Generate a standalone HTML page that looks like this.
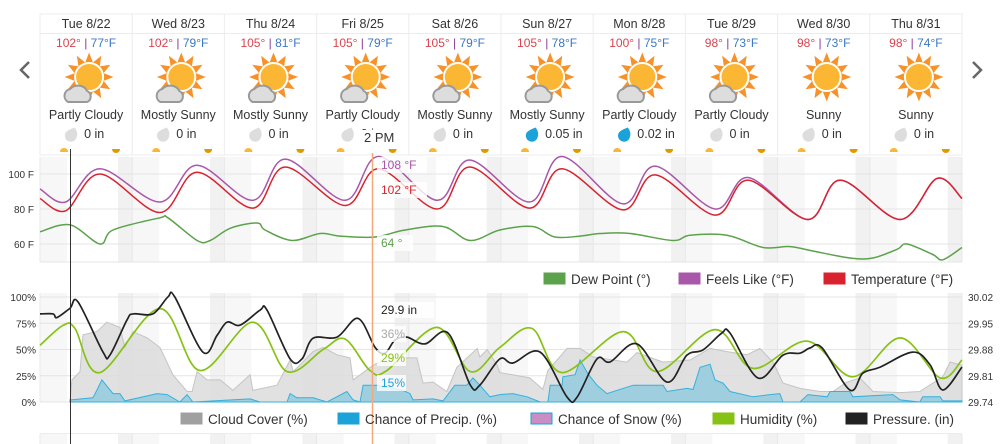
<!DOCTYPE html>
<html><head><meta charset="utf-8"><style>
body{margin:0;width:1000px;height:444px;overflow:hidden;background:#fff;font-family:"Liberation Sans",Arial,sans-serif;}
svg{position:absolute;left:0;top:0}
text{font-family:"Liberation Sans",Arial,sans-serif}
</style></head><body>
<svg id="c" width="1000" height="444" viewBox="0 0 1000 444"></svg>
<script>
const days=["Tue 8/22","Wed 8/23","Thu 8/24","Fri 8/25","Sat 8/26","Sun 8/27","Mon 8/28","Tue 8/29","Wed 8/30","Thu 8/31"];
const highs=[102,102,105,105,105,105,100,98,98,98];
const lows=[77,79,81,79,79,78,75,73,73,74];
const conds=["Partly Cloudy","Mostly Sunny","Mostly Sunny","Partly Cloudy","Mostly Sunny","Mostly Sunny","Partly Cloudy","Partly Cloudy","Sunny","Sunny"];
const precipAmt=["0 in","0 in","0 in","0 in","0 in","0.05 in","0.02 in","0 in","0 in","0 in"];
const tempH=[0,6.7,15.6,31.2,40.8,55.4,63.8,79.4,88.1,103.4,111.8,127.4,135.8,151.7,160.1,175.7,184.3,199.9,208.3,223.9,233.5,240];
const tempV=[86,79,100,78,101,80.5,104,82,103,80,104,80.5,103,79.5,99.5,76.5,96.5,74,96.5,74,97.5,86];
const feelsV=[91.5,84,103,84,105,85,108.5,85,110,85,108,84,110,83,104.5,80,98,74,96.5,74,97.5,86];
const dewH=[0,7.8,15.6,19,31.2,33.3,40.9,44.3,49.5,56.5,58.6,65.6,72.9,78.1,87.2,95,104.9,112,119.7,128.3,134,140.6,145.8,153.6,164.8,169.2,178.8,188.2,195.2,201.2,210.8,216.8,223.1,225.7,232.4,235,240];
const dewV=[67,71,60,68,75,75,62,62,69,72,68,62,66,64.5,64,68,70,62,68,70,64,64.5,66,66,62,65,65,58,58.5,56,52,52,57,60,54,51,58];
const humH=[0,6,9.1,15.6,31.2,41.6,55.4,64.3,73.7,79.4,85.9,90.3,103.3,112,119.7,128.1,135.9,151.8,160.6,175.7,185.6,199.7,211.6,223.9,234.3,240];
const humV=[54,73,70,28,89,30,76,29,50,60,30,30,71,29,52,70,28,67,29,69,32,58,24,61,23,40];
const presH=[0,3.4,4.4,7.8,9.9,16.4,18.2,22.6,24.2,29.4,33.3,35.1,42.4,46.1,48.7,52.1,57.3,59.1,65.1,68.2,71.1,77.3,82.8,87.2,89.8,92.4,95.5,100.2,106.2,112,114.5,119.7,123.1,130.2,137.2,139.8,145,148.4,155.4,163.2,168.4,172.6,177.5,179.6,186.9,193.4,197.8,200.4,203.6,210.8,214.2,218.7,227.2,231.7,235,240];
const presV=[29.975,29.975,29.965,29.99,30.007,29.873,29.865,29.958,29.975,29.975,30.02,30.02,29.873,29.918,29.953,29.945,29.985,29.985,29.855,29.855,29.91,29.913,29.963,29.886,29.87,29.905,29.913,29.895,29.924,29.785,29.785,29.855,29.844,29.873,29.753,29.753,29.855,29.847,29.895,29.793,29.865,29.879,29.924,29.924,29.804,29.865,29.87,29.884,29.884,29.772,29.817,29.833,29.873,29.839,29.772,29.833];
const cloudH=[7.8,8.3,10.4,11.2,14.8,17.4,20.8,22.1,24.2,27.9,31.2,34.6,38.3,39.6,40.9,43.5,46.9,50.2,54.7,55.4,61.7,65.1,65.9,71.1,73.7,77.3,80.7,81.5,86.7,90.3,98.1,99.7,102.3,105.9,108.5,113.8,114.5,116.4,119,119.7,127.5,130.9,132.2,137.2,140.6,143.9,152.8,155.4,162.2,169.2,174.4,178.8,184,187.4,190.8,193.4,197.8,203,206.4,210,213.4,216.8,223.9,229,235,236.9,240];
const cloudV=[0,21,29,64,67,76,71,52,67,61,52,26,10,10,29,21,21,11,26,11,16,40,29,48,52,45,42,21,35,42,42,18,19,10,33,51,43,50,35,28,23,12,30,51,51,43,38,47,38,40,51,48,45,51,38,18,13,10,10,19,23,10,9,10,24,38,35];
const rainH=[7.8,13.8,16.1,19,20.8,22.1,30.5,33.1,36.4,38.3,39.8,54.7,57.3,64.3,65.1,66.9,71.1,74.7,79.9,81.5,83.3,84.1,87.7,94.5,96.3,97.1,102.3,104.9,108,111.1,112.7,114.5,117.1,119.7,123.1,126.8,130.2,132.2,132.8,135.9,136.1,139.3,140.6,142.6,145,147.6,154.4,162.2,163.2,168.4,170,171.8,174.4,175.7,177.8,179.6,185.6,190,192.6,193.4,197.8,199.9,204.9,205.7,210.8,211.6,222,223.9,229,229.8,234.3,235,240];
const rainV=[2,4,21,8,8,1,8,7,0,7,0,3,0,0,8,4,4,0,10,2,0,16,16,11,8,2,3,1,16,16,23,16,5,7,8,5,0,0,16,16,24,26,40,27,16,8,16,16,10,13,12,33,36,21,18,10,5,7,8,0,0,7,5,10,10,5,7,2,0,5,5,1,1];
const tempTicks=[100,80,60];
const pctTicks=[100,75,50,25,0];
const presTicks=["30.02","29.95","29.88","29.81","29.74"];

const NS="http://www.w3.org/2000/svg";const svg=document.getElementById('c');
function el(t,a,p){const e=document.createElementNS(NS,t);for(const k in a)e.setAttribute(k,a[k]);(p||svg).appendChild(e);return e;}
const X0=40,X1=962;
const X=h=>X0+h*(X1-X0)/240;
const YT=v=>174+(100-v)*1.75;
const YP=p=>402-p*1.05;
const YPr=p=>297+(30.02-p)/0.28*105;
const colW=(X1-X0)/10;
function spline(xs,ys){let d="M"+xs[0].toFixed(1)+","+ys[0].toFixed(1);for(let i=0;i<xs.length-1;i++){const x0=xs[Math.max(i-1,0)],y0=ys[Math.max(i-1,0)],x1=xs[i],y1=ys[i],x2=xs[i+1],y2=ys[i+1],x3=xs[Math.min(i+2,xs.length-1)],y3=ys[Math.min(i+2,xs.length-1)];const t=6;d+=` C${(x1+(x2-x0)/t).toFixed(1)},${(y1+(y2-y0)/t).toFixed(1)} ${(x2-(x3-x1)/t).toFixed(1)},${(y2-(y3-y1)/t).toFixed(1)} ${x2.toFixed(1)},${y2.toFixed(1)}`;}return d;}
function line(H,V,yf){return spline(H.map(X),V.map(yf));}
function area(H,V,yf,base){let d="M"+X(H[0]).toFixed(1)+","+base;H.forEach((h,i)=>d+=" L"+X(h).toFixed(1)+","+yf(V[i]).toFixed(1));d+=" L"+X(H[H.length-1]).toFixed(1)+","+base+"Z";return d;}

function bands(y0,y1,name){
  const g=el('g',{});
  
  
  el('rect',{x:X0,y:y0,width:27,height:y1-y0,fill:'#f7f7f7'},g);
  for(let d=0;d<10;d++){const s=X0+d*colW+78;const e=Math.min(X0+(d+1)*colW+27,X1);el('rect',{x:s,y:y0,width:e-s,height:y1-y0,fill:'#f7f7f7'},g);el('rect',{x:s,y:y0,width:Math.min(colW*(d+1)+X0,X1)-s,height:y1-y0,fill:'#f1f1f1'},g);}
  for(let d=0;d<=10;d++)el('line',{x1:X0+d*colW,x2:X0+d*colW,y1:y0,y2:y1,stroke:'#e8e8e8'},g);
}
bands(157,262,'temperature-plot-background');
bands(293,402,'conditions-plot-background');
bands(434,444,'next-plot-background');
el('line',{x1:X0,x2:X1,y1:433.5,y2:433.5,stroke:'#ececec'});

el('rect',{x:X0,y:14,width:X1-X0,height:141,fill:'#fff',stroke:'#ececec'});
el('line',{x1:X0,x2:X1,y1:33.5,y2:33.5,stroke:'#ececec'});
for(let i=0;i<10;i++){
  const cx=X0+i*colW+colW/2;
  const g=el('g',{});
  
  
  if(i>0)el('line',{x1:X0+i*colW,x2:X0+i*colW,y1:14,y2:155,stroke:'#ececec'},g);
  const t=el('text',{x:cx,y:28,'text-anchor':'middle','font-size':12.5,fill:'#333'},g);t.textContent=days[i];
  
  const tt=el('text',{x:cx,y:47,'text-anchor':'middle','font-size':12},g);
  
  const a=el('tspan',{fill:'#d9434e'},tt);a.textContent=highs[i]+'°';
  const b=el('tspan',{fill:'#8a3d96'},tt);b.textContent=' | ';
  const c=el('tspan',{fill:'#3a78c2'},tt);c.textContent=lows[i]+'°F';
  const ic=el('g',{transform:`translate(${cx+3},77)`},g);
  
  let pts="";for(let k=0;k<24;k++){const r=k%2?15:24.5;const an=k*Math.PI/12-Math.PI/2;pts+=(r*Math.cos(an)).toFixed(1)+","+(r*Math.sin(an)).toFixed(1)+" ";}
  el('polygon',{points:pts,fill:'#f7922a'},ic);
  el('circle',{r:14,fill:'#fbb633',stroke:'#fff','stroke-width':2},ic);
  if(conds[i]!=="Sunny"){
    el('path',{d:'M-21,25 L-2,25 a6,6 0 0 0 0,-11 a10,9 0 0 0 -17,-2 a7,7 0 0 0 -2,13 z',fill:'#ddd',stroke:'#999','stroke-width':2},ic);
  }
  const ct=el('text',{x:cx,y:119,'text-anchor':'middle','font-size':12.5,fill:'#333'},g);ct.textContent=conds[i];
  
  const wet=precipAmt[i]!=="0 in";
  el('path',{d:`M${cx-14},127 q-6,6 -6,9 a6,6 0 0 0 12,0 q0,-6 -6,-9z`,transform:`rotate(25 ${cx-14} 133)`,fill:wet?'#1ba2d8':'#ddd'},g);
  const pt=el('text',{x:cx-2,y:138,'font-size':12.5,fill:'#333'},g);pt.textContent=precipAmt[i];
  
  el('path',{d:`M${X0+i*colW+20},152 a4,4 0 0 1 8,0z`,fill:'#fbb633'},g);
  el('path',{d:`M${X0+i*colW+72},149 a4,4 0 0 0 8,0z`,fill:'#e09a00'},g);
}
const la=el('path',{d:'M29,62 L21,70 L29,78',fill:'none',stroke:'#666','stroke-width':2.5});

const ra=el('path',{d:'M973,62 L981,70 L973,78',fill:'none',stroke:'#666','stroke-width':2.5});


tempTicks.forEach(v=>{el('line',{x1:X0,x2:X1,y1:YT(v),y2:YT(v),stroke:'#e4e4e4'});const t=el('text',{x:34,y:YT(v)+4,'text-anchor':'end','font-size':10,fill:'#333'});t.textContent=v+' F';});
el('line',{x1:X0,x2:X1,y1:262,y2:262,stroke:'#e4e4e4'});
const dp=el('path',{d:line(dewH,dewV,YT),fill:'none',stroke:'#5ba24a','stroke-width':1.5});
const fl=el('path',{d:line(tempH,feelsV,YT),fill:'none',stroke:'#a957a8','stroke-width':1.5});
const tl=el('path',{d:line(tempH,tempV,YT),fill:'none',stroke:'#d8232f','stroke-width':1.5});

pctTicks.forEach((p,i)=>{el('line',{x1:X0,x2:X1,y1:YP(p),y2:YP(p),stroke:'#e4e4e4'});const t=el('text',{x:36,y:YP(p)+4,'text-anchor':'end','font-size':10,fill:'#333'});t.textContent=p+'%';
 const r=el('text',{x:968,y:YPr(parseFloat(presTicks[i]))+4,'font-size':10,fill:'#333'});r.textContent=presTicks[i];});
const ca=el('path',{d:area(cloudH,cloudV,YP,402),fill:'#dcdcdc','fill-opacity':0.85,stroke:'#c4c4c4','stroke-width':1});
const pa=el('path',{d:area(rainH,rainV,YP,402),fill:'#8fc9de','fill-opacity':0.8,stroke:'#35b0dc','stroke-width':1});
const hl=el('path',{d:line(humH,humV,YP),fill:'none',stroke:'#86c214','stroke-width':1.7});
const pl=el('path',{d:line(presH,presV,YPr),fill:'none',stroke:'#222','stroke-width':1.7});

const nl=el('line',{x1:70.5,x2:70.5,y1:149,y2:444,stroke:'#333','stroke-width':1});
const hv=el('line',{x1:372.5,x2:372.5,y1:153,y2:444,stroke:'#f5a978','stroke-width':1.5});
function lab(x,y,s,col,name,fs,op){el('rect',{x:x-4,y:y-12,width:s.length*7+8,height:16,fill:'#fff','fill-opacity':op||0.8});const t=el('text',{x:x,y:y,'font-size':fs||12,fill:col});t.textContent=s;}
lab(364,142,'2 PM','#333','hover-time-label',13,1);
lab(381,169,'108 °F','#a957a8','feels-like-tooltip');
lab(381,194,'102 °F','#d8232f','temperature-tooltip');
lab(381,247,'64 °','#5ba24a','dew-point-tooltip');
lab(381,314,'29.9 in','#222','pressure-tooltip');
lab(381,338,'36%','#aaa','cloud-cover-tooltip');
lab(381,362,'29%','#86c214','humidity-tooltip');
lab(381,387,'15%','#1ba2d8','precip-tooltip');

function leg(x,y,fill,stroke,label,name){const g=el('g',{});el('rect',{x:x,y:y-6,width:21,height:11,fill:fill,stroke:stroke||fill},g);const t=el('text',{x:x+27,y:y+5,'font-size':13.5,fill:'#333'},g);t.textContent=label;}
leg(544,279,'#5ba24a',null,'Dew Point (°)','legend-dew-point');
leg(679,279,'#a957a8',null,'Feels Like (°F)','legend-feels-like');
leg(824,279,'#d8232f',null,'Temperature (°F)','legend-temperature');
leg(181,419,'#a0a0a0',null,'Cloud Cover (%)','legend-cloud-cover');
leg(338,419,'#1ba2d8',null,'Chance of Precip. (%)','legend-precip');
leg(531,419,'#c98fc4','#1ba2d8','Chance of Snow (%)','legend-snow');
leg(713,419,'#86c214',null,'Humidity (%)','legend-humidity');
leg(846,419,'#222',null,'Pressure. (in)','legend-pressure');
</script>
</body></html>
